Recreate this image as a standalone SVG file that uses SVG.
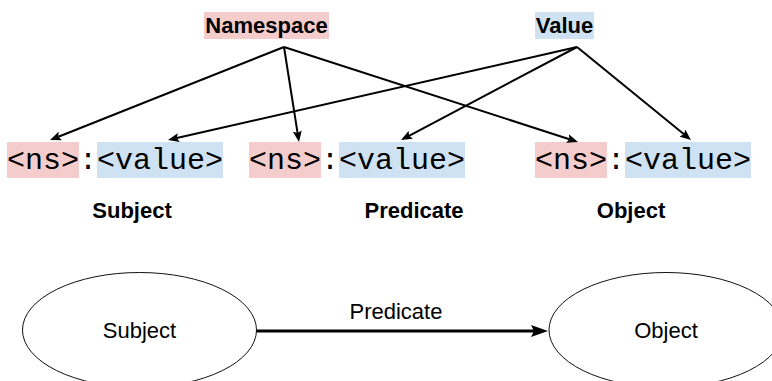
<svg xmlns="http://www.w3.org/2000/svg" width="772" height="381" viewBox="0 0 772 381">
  <style>
    .lbl { font-family: "Liberation Sans", Arial, sans-serif; font-size: 22px; fill: #000; }
    .bold { font-weight: bold; }
    .mono { font-family: "Courier New", "Nimbus Mono PS", FreeMono, "Liberation Mono", monospace; font-size: 30px; fill: #000; }
    .ns { fill: #f4cccc; }
    .val { fill: #cfe2f3; }
    .edge { fill: none; stroke: #000; stroke-width: 2; }
    .edge-main { fill: none; stroke: #000; stroke-width: 3; }
    .ell { fill: #fff; stroke: #111; stroke-width: 1; }
  </style>
  <defs>
    <marker id="head" markerUnits="userSpaceOnUse" viewBox="0 0 11 9" refX="2" refY="4.5" markerWidth="11" markerHeight="9" orient="auto">
      <path d="M0,0 L11,4.5 L0,9 L2,4.5 z" fill="#000"/>
    </marker>
    <marker id="head-lg" markerUnits="userSpaceOnUse" viewBox="0 0 17 12" refX="3" refY="6" markerWidth="17" markerHeight="12" orient="auto">
      <path d="M0,0 L17,6 L0,12 L3,6 z" fill="#000"/>
    </marker>
  </defs>

  <rect width="772" height="381" fill="#fff"/>

  <!-- category labels -->
  <g id="namespace">
    <rect class="ns" x="204" y="12" width="125" height="27"/>
    <text class="lbl bold" x="266.5" y="33" text-anchor="middle">Namespace</text>
  </g>
  <g id="value">
    <rect class="val" x="535" y="12" width="59" height="27"/>
    <text class="lbl bold" x="564.5" y="33" text-anchor="middle">Value</text>
  </g>

  <!-- prefixed terms -->
  <g id="term-subject">
    <rect class="ns" x="7" y="142" width="72" height="36"/>
    <rect class="val" x="97" y="142" width="126" height="36"/>
    <text class="mono" x="7" y="169">&lt;ns&gt;:&lt;value&gt;</text>
    <text class="lbl bold" x="132" y="218" text-anchor="middle">Subject</text>
  </g>
  <g id="term-predicate">
    <rect class="ns" x="249" y="142" width="72" height="36"/>
    <rect class="val" x="339" y="142" width="126" height="36"/>
    <text class="mono" x="249" y="169">&lt;ns&gt;:&lt;value&gt;</text>
    <text class="lbl bold" x="414" y="218" text-anchor="middle">Predicate</text>
  </g>
  <g id="term-object">
    <rect class="ns" x="535" y="142" width="72" height="36"/>
    <rect class="val" x="625" y="142" width="126" height="36"/>
    <text class="mono" x="535" y="169">&lt;ns&gt;:&lt;value&gt;</text>
    <text class="lbl bold" x="631" y="218" text-anchor="middle">Object</text>
  </g>

  <!-- triple graph -->
  <g id="node-subject">
    <ellipse class="ell" cx="139.5" cy="330" rx="117" ry="57.5"/>
    <text class="lbl" x="139.5" y="338" text-anchor="middle">Subject</text>
  </g>
  <g id="node-object">
    <ellipse class="ell" cx="666" cy="330" rx="117" ry="57.5"/>
    <text class="lbl" x="666" y="338" text-anchor="middle">Object</text>
  </g>

  <g id="connectors">
    <line class="edge" x1="284" y1="47" x2="58.4" y2="136.7" marker-end="url(#head)"/>
    <line class="edge" x1="284" y1="47" x2="297.6" y2="133.1" marker-end="url(#head)"/>
    <line class="edge" x1="284" y1="47" x2="569.4" y2="139.2" marker-end="url(#head)"/>
    <line class="edge" x1="577" y1="47" x2="176.8" y2="138" marker-end="url(#head)"/>
    <line class="edge" x1="577" y1="47" x2="409" y2="135.8" marker-end="url(#head)"/>
    <line class="edge" x1="577" y1="47" x2="684" y2="134.3" marker-end="url(#head)"/>
    <line class="edge-main" x1="256.5" y1="331" x2="534" y2="331" marker-end="url(#head-lg)"/>
    <text class="lbl" x="396" y="319" text-anchor="middle">Predicate</text>
  </g>
</svg>
